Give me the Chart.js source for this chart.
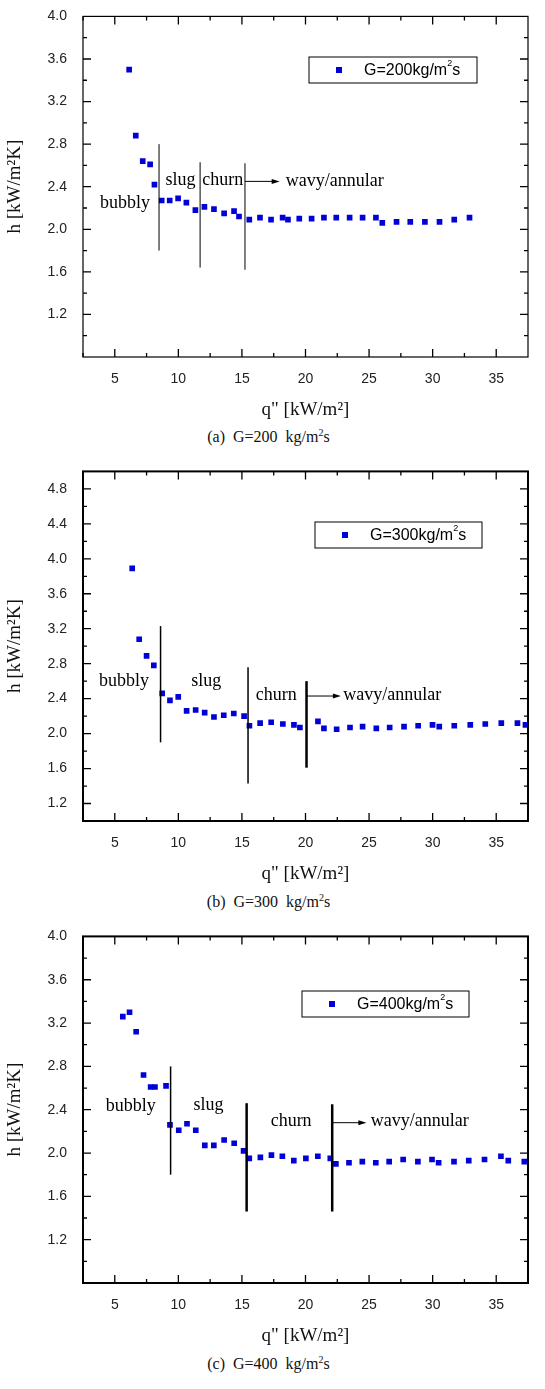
<!DOCTYPE html>
<html>
<head>
<meta charset="utf-8">
<script src="https://cdn.jsdelivr.net/npm/chart.js@4"></script>
<style>
  body { margin: 0; background: #fff; width: 545px; height: 1389px; position: relative; overflow: hidden; }
  .box { position: absolute; left: 0; width: 545px; }
  .cap { position: absolute; left: 0; width: 545px; text-align: center; font-family: "Liberation Serif", serif; font-size: 16px; color: #111; }
  .cap span { position: relative; left: -4px; }
</style>
</head>
<body>
<div class="box" style="top:0;height:425px"><canvas id="c1"></canvas></div>
<div class="cap" style="top:427px"><span>(a)&nbsp; G=200&nbsp; kg/m<sup style="font-size:10px">2</sup>s</span></div>
<div class="box" style="top:455px;height:434px"><canvas id="c2"></canvas></div>
<div class="cap" style="top:892px"><span>(b)&nbsp; G=300&nbsp; kg/m<sup style="font-size:10px">2</sup>s</span></div>
<div class="box" style="top:920px;height:431px"><canvas id="c3"></canvas></div>
<div class="cap" style="top:1354px"><span>(c)&nbsp; G=400&nbsp; kg/m<sup style="font-size:10px">2</sup>s</span></div>
<script>
// G=200 数据
const q200 = [6.13,6.65,7.2,7.78,8.12,8.69,9.32,9.98,10.63,11.34,12.05,12.8,13.6,14.38,14.77,15.58,16.42,17.29,18.2,18.62,19.51,20.48,21.45,22.42,23.47,24.49,25.54,26.04,27.16,28.24,29.39,30.54,31.7,32.9];
const h200 = [3.50,2.88,2.64,2.61,2.42,2.27,2.27,2.29,2.25,2.18,2.21,2.19,2.15,2.17,2.12,2.09,2.11,2.09,2.11,2.09,2.10,2.10,2.11,2.11,2.11,2.11,2.11,2.06,2.07,2.07,2.07,2.07,2.09,2.11];
// G=300 数据
const q300 = [6.37,6.92,7.5,8.07,8.73,9.34,9.99,10.65,11.36,12.07,12.8,13.57,14.36,15.17,15.59,16.43,17.3,18.22,19.09,19.56,20.98,21.45,22.45,23.5,24.49,25.57,26.62,27.75,28.86,29.99,30.52,31.7,32.96,34.14,35.4,36.67,37.3];
const h300 = [3.89,3.08,2.89,2.78,2.46,2.38,2.42,2.26,2.27,2.24,2.19,2.21,2.23,2.20,2.09,2.12,2.13,2.11,2.10,2.07,2.14,2.06,2.05,2.07,2.08,2.06,2.07,2.08,2.09,2.10,2.08,2.09,2.10,2.11,2.12,2.12,2.10];
// G=400 数据
const q400 = [5.63,6.16,6.68,7.26,7.82,8.16,9.03,9.34,10.03,10.68,11.37,12.08,12.79,13.6,14.39,15.13,15.58,16.45,17.32,18.18,19.08,20.03,20.97,21.95,22.39,23.42,24.47,25.53,26.58,27.68,28.84,29.95,30.47,31.68,32.84,34.08,35.37,35.95,37.21];
const h400 = [3.26,3.30,3.12,2.72,2.61,2.61,2.62,2.26,2.21,2.27,2.21,2.07,2.07,2.12,2.09,2.02,1.95,1.96,1.98,1.97,1.93,1.95,1.97,1.95,1.90,1.91,1.92,1.91,1.92,1.94,1.92,1.94,1.91,1.92,1.93,1.94,1.97,1.93,1.92];

// 流型分界线 [x, yTop, yBottom, lineWidth]
const bounds200 = [[8.48,2.80,1.80,1],[11.71,2.63,1.64,1],[15.24,2.62,1.62,1]];
const bounds300 = [[8.6,3.23,1.90,1.5],[15.48,2.76,1.43,1.5],[20.08,2.60,1.61,2.5]];
const bounds400 = [[9.39,2.80,1.80,1.5],[15.37,2.46,1.46,2.5],[22.1,2.45,1.46,2.5]];
// 流型标签 [text, x, y, align]
const labels200 = [["bubbly",5.8,2.24,"center"],["slug",10.16,2.46,"center"],["churn",13.5,2.46,"center"],["wavy/annular",18.44,2.45,"left"]];
const labels300 = [["bubbly",5.73,2.60,"center"],["slug",12.2,2.60,"center"],["churn",17.7,2.44,"center"],["wavy/annular",22.97,2.44,"left"]];
const labels400 = [["bubbly",6.26,2.43,"center"],["slug",12.37,2.44,"center"],["churn",18.87,2.29,"center"],["wavy/annular",25.13,2.29,"left"]];
// 箭头 [x0, x1, y]
const arrow200 = [15.24,17.97,2.45];
const arrow300 = [20.08,22.78,2.43];
const arrow400 = [22.1,24.79,2.28];

const blue = 'rgb(0,0,215)';

const deco = {
  id: 'deco',
  afterDraw(chart, args, o) {
    const ctx = chart.ctx, a = chart.chartArea, x = chart.scales.x, y = chart.scales.y;
    ctx.save();
    ctx.strokeStyle = '#000';
    ctx.lineWidth = o.frame;
    ctx.strokeRect(a.left, a.top, a.right - a.left, a.bottom - a.top);
    // 内向刻度
    ctx.lineWidth = 1.3;
    for (let i = 1; i <= 14; i++) {
      const v = 2.5 * i;
      const px = x.getPixelForValue(v), len = (i % 2 === 0) ? 8 : 4;
      ctx.beginPath();
      ctx.moveTo(px, a.bottom); ctx.lineTo(px, a.bottom - len);
      ctx.moveTo(px, a.top); ctx.lineTo(px, a.top + len);
      ctx.stroke();
    }
    const n = Math.round((y.max - y.min) / 0.2);
    for (let i = 1; i < n; i++) {
      const v = y.min + 0.2 * i;
      const py = y.getPixelForValue(v), major = Math.round(v * 10) % 4 === 0, len = major ? 8 : 4;
      ctx.beginPath();
      ctx.moveTo(a.left, py); ctx.lineTo(a.left + len, py);
      ctx.moveTo(a.right, py); ctx.lineTo(a.right - len, py);
      ctx.stroke();
    }
    // 分界线
    o.bounds.forEach(b => {
      ctx.lineWidth = b[3];
      ctx.beginPath();
      ctx.moveTo(x.getPixelForValue(b[0]), y.getPixelForValue(b[1]));
      ctx.lineTo(x.getPixelForValue(b[0]), y.getPixelForValue(b[2]));
      ctx.stroke();
    });
    // 箭头
    const ax0 = x.getPixelForValue(o.arrow[0]), ax1 = x.getPixelForValue(o.arrow[1]), ay = y.getPixelForValue(o.arrow[2]);
    ctx.lineWidth = 1;
    ctx.beginPath(); ctx.moveTo(ax0, ay); ctx.lineTo(ax1 - 6, ay); ctx.stroke();
    ctx.fillStyle = '#000';
    ctx.beginPath(); ctx.moveTo(ax1, ay); ctx.lineTo(ax1 - 8, ay - 2.5); ctx.lineTo(ax1 - 8, ay + 2.5); ctx.closePath(); ctx.fill();
    // 标签
    ctx.font = '18px "Liberation Serif", serif';
    ctx.textBaseline = 'middle';
    o.labels.forEach(l => {
      ctx.textAlign = l[3];
      ctx.fillText(l[0], x.getPixelForValue(l[1]), y.getPixelForValue(l[2]));
    });
    // 图例框
    const L = o.legend;
    ctx.lineWidth = 1;
    ctx.strokeRect(L[0], L[1], L[2], 26);
    ctx.fillStyle = blue;
    ctx.fillRect(L[0] + 27, L[1] + 10, 6, 6);
    ctx.fillStyle = '#000';
    ctx.textAlign = 'left';
    ctx.font = '16px "Liberation Sans", Arial, sans-serif';
    ctx.fillText('G=' + o.g + 'kg/m', L[0] + 55, L[1] + 14);
    const w = ctx.measureText('G=' + o.g + 'kg/m').width;
    ctx.font = '9px "Liberation Sans", Arial, sans-serif';
    ctx.fillText('2', L[0] + 55 + w, L[1] + 7);
    ctx.font = '16px "Liberation Sans", Arial, sans-serif';
    ctx.fillText('s', L[0] + 55 + w + 5, L[1] + 14);
    ctx.restore();
  }
};

function makeChart(id, qs, hs, ymin, ymax, yTicks, padTop, frame, bounds, labels, arrow, legend, g) {
  new Chart(document.getElementById(id), {
    type: 'scatter',
    data: {
      datasets: [{
        data: qs.map((q, i) => ({ x: q, y: hs[i] })),
        pointStyle: 'rect',
        pointRadius: 4,
        backgroundColor: blue,
        borderColor: blue,
        borderWidth: 0
      }]
    },
    options: {
      responsive: true,
      maintainAspectRatio: false,
      animation: false,
      layout: { padding: { top: padTop, right: 17, left: 0, bottom: 0 } },
      plugins: {
        legend: { display: false },
        tooltip: { enabled: false },
        deco: { frame: frame, bounds: bounds, labels: labels, arrow: arrow, legend: legend, g: g }
      },
      scales: {
        x: {
          type: 'linear', min: 2.5, max: 37.5,
          afterBuildTicks: s => { s.ticks = [5,10,15,20,25,30,35].map(v => ({ value: v })); },
          grid: { display: false },
          border: { display: false },
          ticks: { color: '#222', font: { family: '"Liberation Sans", Arial', size: 14 }, padding: 6 },
          title: { display: true, text: 'q" [kW/m\u00b2]', color: '#111', font: { family: '"Liberation Serif", serif', size: 19 }, padding: { top: 4 } },
          afterFit: s => { s.height = 68; }
        },
        y: {
          min: ymin, max: ymax,
          afterBuildTicks: s => { s.ticks = yTicks.map(v => ({ value: v })); },
          grid: { display: false },
          border: { display: false },
          ticks: { color: '#222', font: { family: '"Liberation Sans", Arial', size: 14 }, padding: 8, callback: v => v.toFixed(1) },
          title: { display: true, text: 'h [kW/m\u00b2K]', color: '#111', font: { family: '"Liberation Serif", serif', size: 19 }, padding: { bottom: 2 } },
          afterFit: s => { s.width = 83; }
        }
      }
    },
    plugins: [deco]
  });
}

const yt1 = [1.2,1.6,2.0,2.4,2.8,3.2,3.6,4.0];
const yt2 = [1.2,1.6,2.0,2.4,2.8,3.2,3.6,4.0,4.4,4.8];
makeChart('c1', q200, h200, 0.8, 4.0, yt1, 12, 1.2, bounds200, labels200, arrow200, [309, 57, 168], 200);
makeChart('c2', q300, h300, 1.0, 5.0, yt2, 14, 2, bounds300, labels300, arrow300, [315, 67, 167], 300);
makeChart('c3', q400, h400, 0.8, 4.0, yt1, 15, 2, bounds400, labels400, arrow400, [302, 71, 167], 400);
</script>
</body>
</html>
